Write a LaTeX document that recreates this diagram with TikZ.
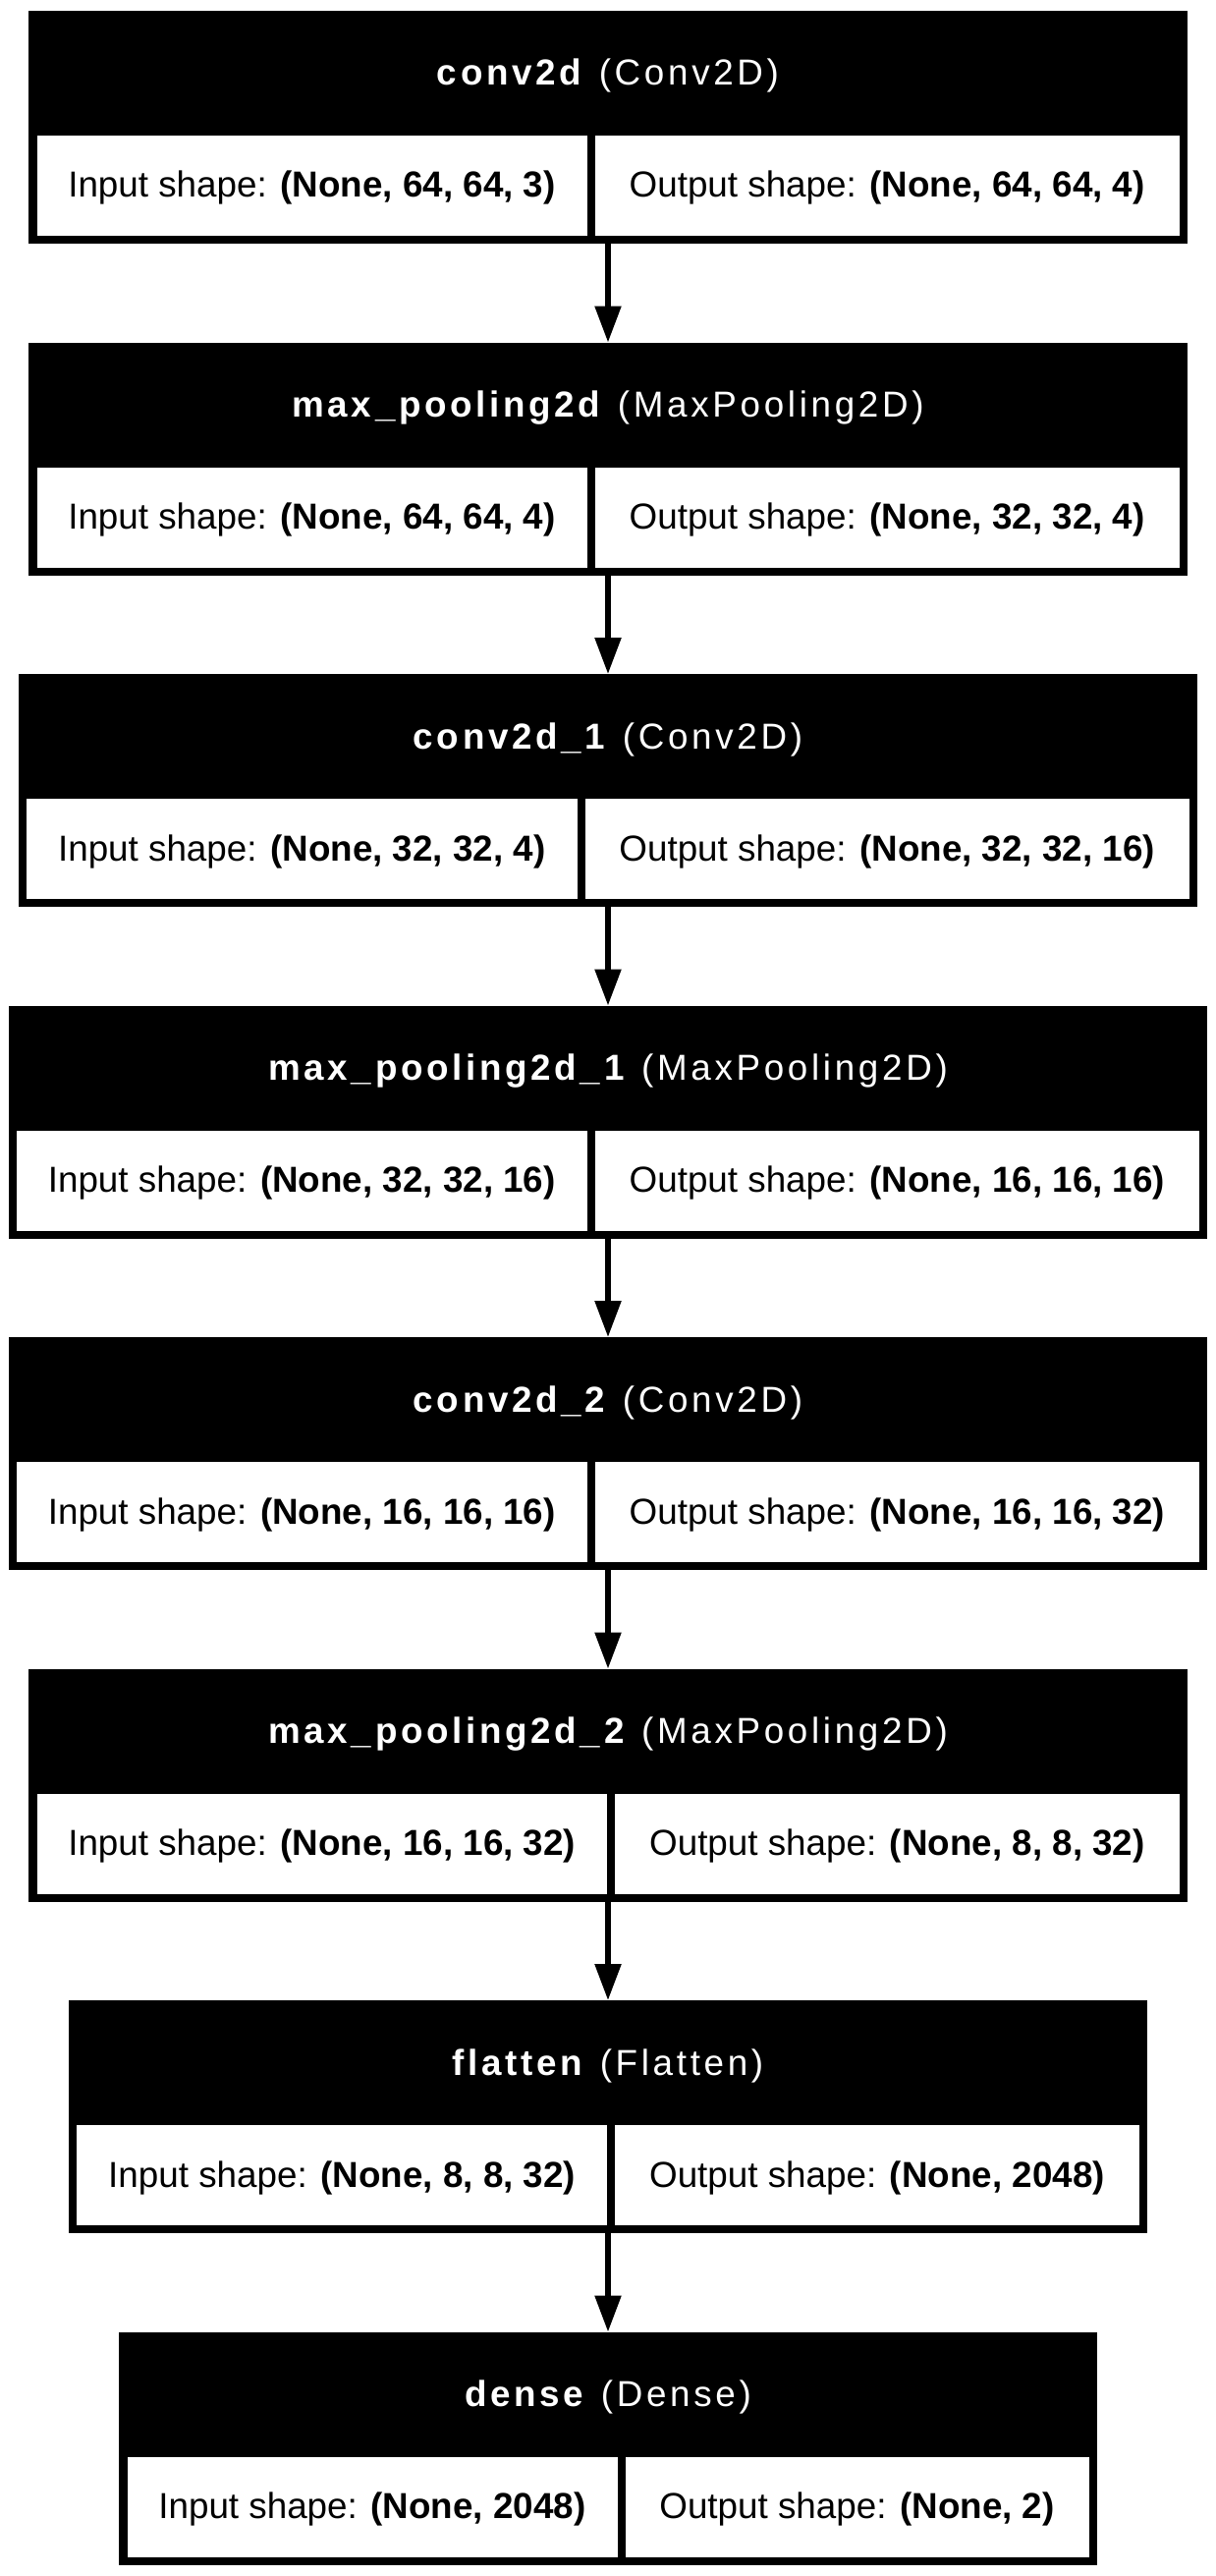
\documentclass[tikz,border=0pt]{standalone}
\usepackage{fontspec}
\setmainfont{Liberation Sans}
\usetikzlibrary{arrows.meta}

\newcommand\cellfont{\fontsize{36.8pt}{44pt}\selectfont}
\newcommand\headfont{\fontsize{36.8pt}{44pt}\selectfont\addfontfeature{LetterSpace=10}}
\newlength\inw
\newlength\outw
\newsavebox\inbox
\newsavebox\outbox

\tikzset{
  layerbox/.style={fill=black, inner sep=0pt, anchor=north, minimum height=237pt},
  cellbox/.style={fill=white, inner sep=0pt, anchor=north west, minimum height=102pt},
  headtext/.style={text=white, inner sep=0pt, anchor=base, font=\headfont},
  celltext/.style={text=black, inner sep=0pt, anchor=base, font=\cellfont},
  flow/.style={line width=5.5pt, -{Triangle[length=37pt,width=26pt]}},
}

% #1 node name, #2 top edge, #3 layer name, #4 layer class, #5 input shape, #6 output shape
\newcommand\layer[6]{%
  \pgfinterruptpicture
    \global\sbox\inbox{\cellfont Input shape: \textbf{#5}}%
    \global\sbox\outbox{\cellfont Output shape: \textbf{#6}}%
  \endpgfinterruptpicture
  \inw=\wd\inbox
  \outw=\wd\outbox
  \pgfmathsetmacro\cellL{\inw+64}%
  \pgfmathsetmacro\cellR{\outw+70}%
  \pgfmathsetmacro\boxW{\cellL+\cellR+24}%
  \pgfmathsetmacro\boxX{619-\boxW/2}%
  \node[layerbox, minimum width=\boxW pt] (#1) at (619,-#2) {};
  \node[cellbox, minimum width=\cellL pt] (#1-in) at (\boxX+8,-#2-127) {};
  \node[cellbox, minimum width=\cellR pt] (#1-out) at (\boxX+16+\cellL,-#2-127) {};
  \node[headtext] (#1-title) at (619,-#2-76) {\textbf{#3} (#4)};
  \node[celltext] (#1-intext) at (\boxX+8+\cellL/2,-#2-190) {Input shape: \textbf{#5}};
  \node[celltext] (#1-outtext) at (\boxX+16+\cellL+\cellR/2,-#2-190) {Output shape: \textbf{#6}};
}

\begin{document}
\begin{tikzpicture}[x=1pt, y=1pt]
  \fill[white] (0,0) rectangle (1238,-2622);
  \useasboundingbox (0,0) rectangle (1238,-2622);

  \layer{l1}{11}{conv2d}{Conv2D}{(None, 64, 64, 3)}{(None, 64, 64, 4)}
  \layer{l2}{348.5}{max\_pooling2d}{MaxPooling2D}{(None, 64, 64, 4)}{(None, 32, 32, 4)}
  \layer{l3}{686}{conv2d\_1}{Conv2D}{(None, 32, 32, 4)}{(None, 32, 32, 16)}
  \layer{l4}{1023.5}{max\_pooling2d\_1}{MaxPooling2D}{(None, 32, 32, 16)}{(None, 16, 16, 16)}
  \layer{l5}{1361}{conv2d\_2}{Conv2D}{(None, 16, 16, 16)}{(None, 16, 16, 32)}
  \layer{l6}{1698.5}{max\_pooling2d\_2}{MaxPooling2D}{(None, 16, 16, 32)}{(None, 8, 8, 32)}
  \layer{l7}{2036}{flatten}{Flatten}{(None, 8, 8, 32)}{(None, 2048)}
  \layer{l8}{2373.5}{dense}{Dense}{(None, 2048)}{(None, 2)}

  \draw[flow] (l1.south) -- (l2.north);
  \draw[flow] (l2.south) -- (l3.north);
  \draw[flow] (l3.south) -- (l4.north);
  \draw[flow] (l4.south) -- (l5.north);
  \draw[flow] (l5.south) -- (l6.north);
  \draw[flow] (l6.south) -- (l7.north);
  \draw[flow] (l7.south) -- (l8.north);
\end{tikzpicture}
\end{document}
